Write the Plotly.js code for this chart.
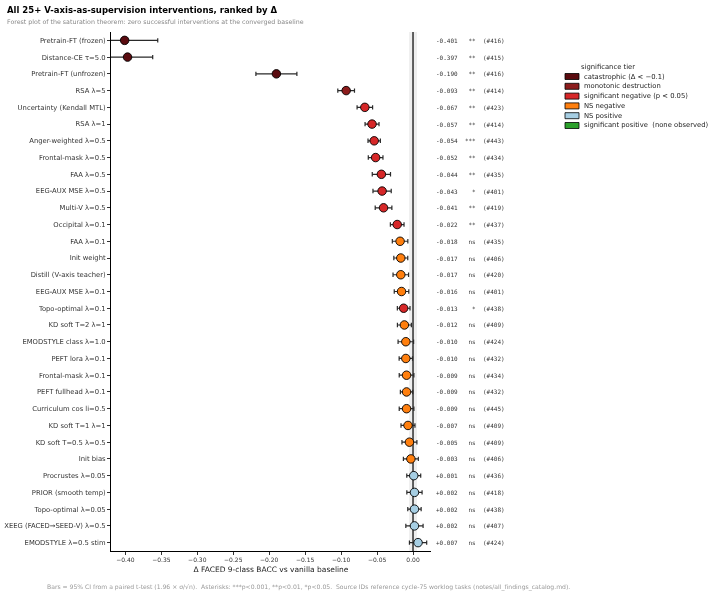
<!DOCTYPE html>
<html>
<head>
<meta charset="utf-8">
<script src="https://cdn.plot.ly/plotly-3.0.1.min.js"></script>
<style>
  html, body { margin: 0; padding: 0; background: #fff; }
  #chart { width: 712px; height: 611px; will-change: transform; }
</style>
</head>
<body>
<div id="chart"></div>
<script>
// Interventions, ordered from most harmful to most helpful.
const labels = [
  "Pretrain-FT (frozen)", "Distance-CE \u03c4=5.0", "Pretrain-FT (unfrozen)", "RSA \u03bb=5",
  "Uncertainty (Kendall MTL)", "RSA \u03bb=1", "Anger-weighted \u03bb=0.5", "Frontal-mask \u03bb=0.5",
  "FAA \u03bb=0.5", "EEG-AUX MSE \u03bb=0.5", "Multi-V \u03bb=0.5", "Occipital \u03bb=0.1",
  "FAA \u03bb=0.1", "Init weight", "Distill (V-axis teacher)", "EEG-AUX MSE \u03bb=0.1",
  "Topo-optimal \u03bb=0.1", "KD soft T=2 \u03bb=1", "EMODSTYLE class \u03bb=1.0", "PEFT lora \u03bb=0.1",
  "Frontal-mask \u03bb=0.1", "PEFT fullhead \u03bb=0.1", "Curriculum cos li=0.5", "KD soft T=1 \u03bb=1",
  "KD soft T=0.5 \u03bb=0.5", "Init bias", "Procrustes \u03bb=0.05", "PRIOR (smooth temp)",
  "Topo-optimal \u03bb=0.05", "XEEG (FACED\u2192SEED-V) \u03bb=0.5", "EMODSTYLE \u03bb=0.5 stim"
];

// Change in FACED 9-class balanced accuracy vs the vanilla baseline.
const delta = [
  -0.401, -0.397, -0.190, -0.093, -0.067, -0.057, -0.054, -0.052,
  -0.044, -0.043, -0.041, -0.022, -0.018, -0.017, -0.017, -0.016,
  -0.013, -0.012, -0.010, -0.010, -0.009, -0.009, -0.009, -0.007,
  -0.005, -0.003, 0.001, 0.002, 0.002, 0.002, 0.007
];

// Half-width of the 95% CI (1.96 * sd / sqrt(n)).
const ciHalf = [
  0.046, 0.035, 0.0285, 0.0116, 0.0108, 0.0097, 0.0086, 0.0102,
  0.0127, 0.0127, 0.0116, 0.0095, 0.0108, 0.0097, 0.0108, 0.0101,
  0.0088, 0.0097, 0.0108, 0.0093, 0.0102, 0.0086, 0.0102, 0.0097,
  0.0104, 0.0104, 0.0097, 0.0106, 0.0093, 0.012, 0.012
];

const stars = [
  "**", "**", "**", "**", "**", "**", "***", "**",
  "**", "*", "**", "**", "ns", "ns", "ns", "ns",
  "*", "ns", "ns", "ns", "ns", "ns", "ns", "ns",
  "ns", "ns", "ns", "ns", "ns", "ns", "ns"
];

const taskIds = [
  416, 415, 416, 414, 423, 414, 443, 434,
  435, 401, 419, 437, 435, 406, 420, 401,
  438, 409, 424, 432, 434, 432, 445, 409,
  409, 406, 436, 418, 438, 407, 424
];

// Significance tier of each intervention (index into tierNames).
const tier = [
  0, 0, 0, 1, 2, 2, 2, 2,
  2, 2, 2, 2, 3, 3, 3, 3,
  2, 3, 3, 3, 3, 3, 3, 3,
  3, 3, 4, 4, 4, 4, 4
];

const tierNames = [
  "catastrophic (\u0394 < \u22120.1)",
  "monotonic destruction",
  "significant negative (p < 0.05)",
  "NS negative",
  "NS positive",
  "significant positive  (none observed)"
];
const tierColors = ["#5a0b0f", "#8c1c1c", "#d62728", "#ff7f0e", "#a6cee3", "#2ca02c"];

const xTicks = [-0.40, -0.35, -0.30, -0.25, -0.20, -0.15, -0.10, -0.05, 0.00];

const rowIdx = labels.map((_, i) => i);

// One scatter trace per tier so each gets its own colour.
const traces = tierNames.map((name, t) => {
  const idx = rowIdx.filter(i => tier[i] === t);
  return {
    type: "scatter",
    mode: "markers",
    name: name,
    showlegend: false,
    x: idx.map(i => delta[i]),
    y: idx.map(i => i),
    error_x: {
      type: "data",
      symmetric: true,
      array: idx.map(i => ciHalf[i]),
      color: "#2a2a2a",
      thickness: 1.2,
      width: 2.2
    },
    marker: {
      size: 8.5,
      color: tierColors[t],
      line: { color: "#000", width: 0.9 }
    },
    hoverinfo: "x+y"
  };
});

const nbsp = s => s.replace(/ /g, "\u00a0");
const fmtDelta = v => (v >= 0 ? "+" : "-") + Math.abs(v).toFixed(3);

// Value / significance / source id column to the right of the axes.
const rowNotes = rowIdx.map(i => ({
  xref: "paper", yref: "y",
  x: 1.0094, y: i,
  xanchor: "left", yanchor: "middle",
  showarrow: false,
  text: nbsp(fmtDelta(delta[i]) + "  " + stars[i].padStart(3, " ") + "  (#" + taskIds[i] + ")"),
  font: { family: "DejaVu Sans Mono, monospace", size: 6, color: "#333" }
}));

// Hand-built legend with rectangular swatches.
const legX0 = (565 - 111) / 320, legX1 = (579 - 111) / 320;
const legTextX = (582 - 111) / 320;
const pyToPaper = py => (551 - py) / 519;
const legendShapes = tierNames.map((_, t) => {
  const cy = 76.5 + t * 9.8;
  return {
    type: "rect", xref: "paper", yref: "paper",
    x0: legX0, x1: legX1,
    y0: pyToPaper(cy + 3), y1: pyToPaper(cy - 3),
    fillcolor: tierColors[t],
    line: { color: "#000", width: 0.8 }
  };
});
const legendNotes = tierNames.map((name, t) => ({
  xref: "paper", yref: "paper",
  x: legTextX, y: pyToPaper(76.5 + t * 9.8),
  xanchor: "left", yanchor: "middle",
  showarrow: false,
  text: nbsp(name),
  font: { family: "DejaVu Sans, sans-serif", size: 6.8, color: "#222" }
}));
legendNotes.push({
  xref: "paper", yref: "paper",
  x: (608 - 111) / 320, y: pyToPaper(67),
  xanchor: "center", yanchor: "middle",
  showarrow: false,
  text: "significance tier",
  font: { family: "DejaVu Sans, sans-serif", size: 6.8, color: "#222" }
});

const layout = {
  width: 712,
  height: 611,
  paper_bgcolor: "#fff",
  plot_bgcolor: "#fff",
  margin: { l: 111, r: 281, t: 32, b: 60 },
  showlegend: false,
  font: { family: "DejaVu Sans, sans-serif", color: "#222" },
  title: {
    text: "<b>All 25+ V-axis-as-supervision interventions, ranked by \u0394</b>",
    xref: "container", yref: "container",
    x: 7 / 712, xanchor: "left",
    y: 1 - 10 / 611, yanchor: "middle",
    font: { family: "DejaVu Sans, sans-serif", size: 8.5, color: "#000" }
  },
  xaxis: {
    range: [-0.42, 0.025],
    tickvals: xTicks,
    tickformat: ".2f",
    showgrid: false,
    zeroline: false,
    showline: true,
    linecolor: "#000",
    linewidth: 1,
    ticks: "outside",
    ticklen: 3,
    tickwidth: 0.8,
    tickcolor: "#000",
    tickfont: { size: 6, color: "#333" },
    title: {
      text: "\u0394 FACED 9-class BACC vs vanilla baseline",
      font: { size: 7.5, color: "#222" },
      standoff: 4
    }
  },
  yaxis: {
    range: [labels.length - 0.5, -0.5],
    tickvals: rowIdx,
    ticktext: labels,
    showgrid: false,
    zeroline: false,
    showline: true,
    linecolor: "#000",
    linewidth: 1,
    ticks: "outside",
    ticklen: 3,
    tickwidth: 0.8,
    tickcolor: "#000",
    tickfont: { size: 6.8, color: "#333" }
  },
  shapes: [
    {
      type: "rect", xref: "x", yref: "paper",
      x0: -0.0055, x1: 0.0055, y0: 0, y1: 1,
      fillcolor: "#efefef", line: { width: 0 }, layer: "below"
    },
    {
      type: "line", xref: "x", yref: "paper",
      x0: 0, x1: 0, y0: 0, y1: 1,
      line: { color: "#000", width: 1.2 }, layer: "below"
    }
  ].concat(legendShapes),
  annotations: [
    {
      xref: "paper", yref: "paper",
      x: (5 - 111) / 320, y: pyToPaper(22),
      xanchor: "left", yanchor: "middle", showarrow: false,
      text: "Forest plot of the saturation theorem: zero successful interventions at the converged baseline",
      font: { size: 6.3, color: "#888" }
    },
    {
      xref: "paper", yref: "paper",
      x: (45 - 111) / 320, y: pyToPaper(587),
      xanchor: "left", yanchor: "middle", showarrow: false,
      text: nbsp("Bars = 95% CI from a paired t-test (1.96 \u00d7 \u03c3/\u221an).  Asterisks: ***p<0.001, **p<0.01, *p<0.05.  Source IDs reference cycle-75 worklog tasks (notes/all_findings_catalog.md)."),
      font: { size: 6.1, color: "#999" }
    }
  ].concat(rowNotes, legendNotes)
};

Plotly.newPlot("chart", traces, layout, { displayModeBar: false, staticPlot: true });
</script>
</body>
</html>
